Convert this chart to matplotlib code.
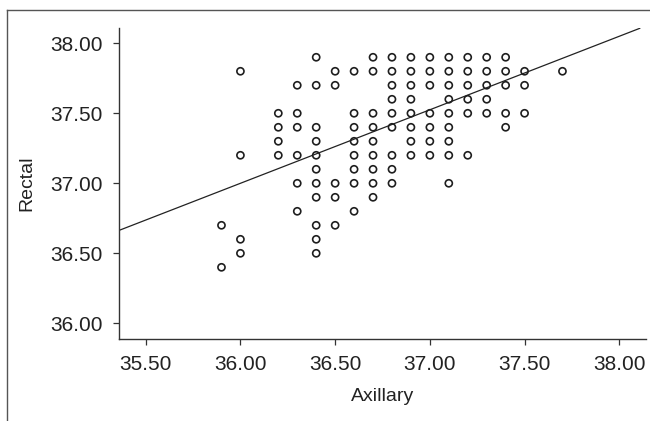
#!/usr/bin/env python3
"""
Scatter of rectal vs axillary temperature with fitted regression line
"""

import numpy as np
import matplotlib
matplotlib.use("Agg")
import matplotlib.pyplot as plt
from matplotlib.lines import Line2D

plt.rcParams['font.family'] = ['Liberation Sans', 'DejaVu Sans']

# Axillary readings (one column of points each) and the rectal readings seen at them
axillary = [35.9, 36.0, 36.2, 36.3, 36.4, 36.5, 36.6, 36.7, 36.8,
            36.9, 37.0, 37.1, 37.2, 37.3, 37.4, 37.5, 37.7]
rectal = [
    [36.7, 36.4],
    [37.8, 37.2, 36.6, 36.5],
    [37.5, 37.4, 37.3, 37.2],
    [37.7, 37.5, 37.4, 37.2, 37.0, 36.8],
    [37.9, 37.7, 37.4, 37.3, 37.2, 37.1, 37.0, 36.9, 36.7, 36.6, 36.5],
    [37.8, 37.7, 37.0, 36.9, 36.7],
    [37.8, 37.5, 37.4, 37.3, 37.2, 37.1, 37.0, 36.8],
    [37.9, 37.8, 37.5, 37.4, 37.3, 37.2, 37.1, 37.0, 36.9],
    [37.9, 37.8, 37.7, 37.6, 37.5, 37.4, 37.2, 37.1, 37.0],
    [37.9, 37.8, 37.7, 37.6, 37.5, 37.4, 37.3, 37.2],
    [37.9, 37.8, 37.7, 37.5, 37.4, 37.3, 37.2],
    [37.9, 37.8, 37.7, 37.6, 37.5, 37.4, 37.3, 37.2, 37.0],
    [37.9, 37.8, 37.7, 37.6, 37.5, 37.2],
    [37.9, 37.8, 37.7, 37.6, 37.5],
    [37.9, 37.8, 37.7, 37.5, 37.4],
    [37.8, 37.7, 37.5],
    [37.8],
]

# regression line: rectal = intercept + slope * axillary
fit_slope = 0.525
fit_intercept = 18.10
line_x_end = 38.108

x_ticks = [35.5, 36.0, 36.5, 37.0, 37.5, 38.0]
y_ticks = [36.0, 36.5, 37.0, 37.5, 38.0]

xs = np.concatenate([[a] * len(r) for a, r in zip(axillary, rectal)])
ys = np.concatenate(rectal)

fig = plt.figure(figsize=(6.5, 4.21), dpi=100)
ax = fig.add_axes([119 / 650, 1 - 339 / 421, (646 - 119) / 650, (339 - 28) / 421])

ax.scatter(xs, ys, s=26, facecolors='none', edgecolors='#1e1e1e', linewidths=1.2, zorder=3)

xmin, xmax = 35.359, 38.141
ymin, ymax = 35.888, 38.109
lx = np.array([xmin, line_x_end])
ax.plot(lx, fit_intercept + fit_slope * lx, color='#222222', linewidth=0.9, zorder=2)

ax.set_xlim(xmin, xmax)
ax.set_ylim(ymin, ymax)
ax.set_xticks(x_ticks)
ax.set_yticks(y_ticks)
ax.set_xticklabels([f"{v:.2f}" for v in x_ticks])
ax.set_yticklabels([f"{v:.2f}" for v in y_ticks])

for side in ('top', 'right'):
    ax.spines[side].set_visible(False)
for side in ('left', 'bottom'):
    ax.spines[side].set_color('#333333')
    ax.spines[side].set_linewidth(1.0)

ax.tick_params(direction='out', length=4.5, width=0.9, color='#333333',
               labelsize=15, labelcolor='#222222', pad=7)

ax.set_xlabel('Axillary', fontsize=14, color='#222222', labelpad=10)
ax.set_ylabel('Rectal', fontsize=14, color='#222222', labelpad=11)

# thin frame round the cropped figure (top and left edges only)
fig.add_artist(Line2D([7 / 650, 7 / 650], [0, 1 - 10 / 421], transform=fig.transFigure,
                      color='#555555', linewidth=1.0))
fig.add_artist(Line2D([7 / 650, 1], [1 - 10 / 421, 1 - 10 / 421], transform=fig.transFigure,
                      color='#555555', linewidth=1.0))

fig.savefig('out.png', dpi=100)
